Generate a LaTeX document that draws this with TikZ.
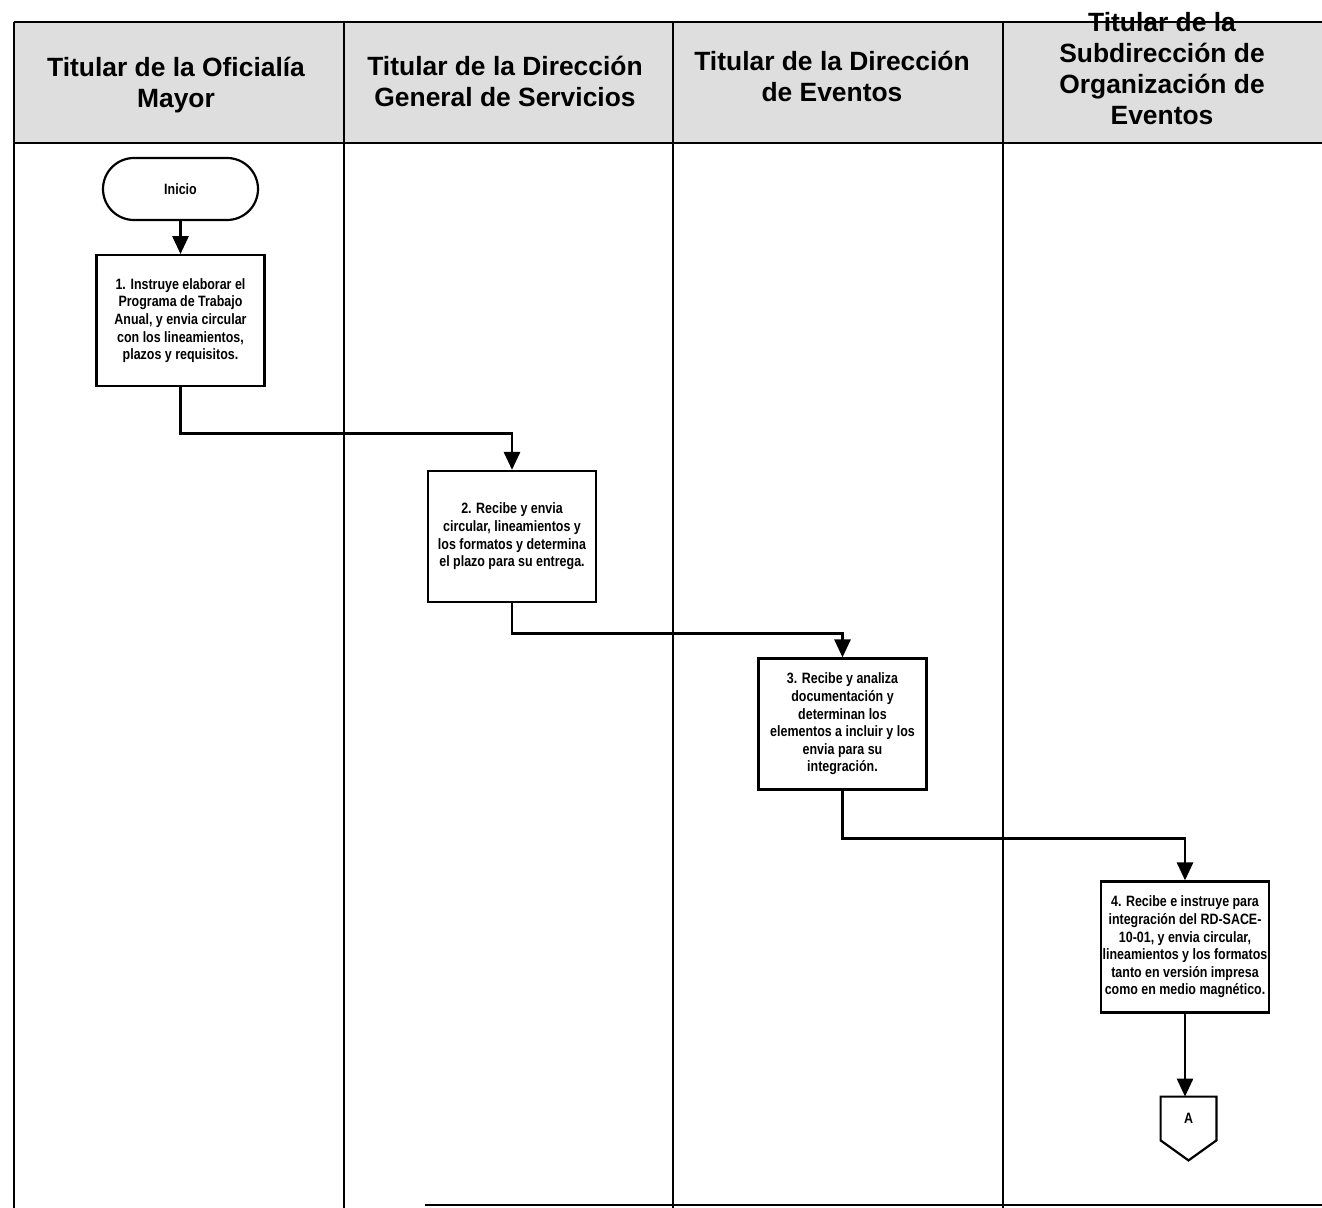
\documentclass[tikz,border=0pt]{standalone}
\usepackage{fontspec}
\setmainfont{Liberation Sans}
\newfontfamily\boxfont{Liberation Sans}[FakeStretch=0.83]
\usepackage{tikz}
\usetikzlibrary{positioning,arrows.meta}

\begin{document}
\begin{tikzpicture}[x=0.5pt, y=-0.5pt,
  hdr/.style={font=\bfseries\fontsize{13.2}{15.5}\selectfont, align=center, inner sep=0pt},
  act/.style={draw, line width=1.1pt, minimum width=84pt, minimum height=65.5pt,
              align=center, inner sep=1pt, fill=white,
              font=\boxfont\bfseries\fontsize{7.5}{8.8}\selectfont},
  term/.style={draw, line width=1.1pt, rounded corners=15.5pt, minimum width=77.5pt,
               minimum height=31pt, fill=white,
               font=\boxfont\bfseries\fontsize{7.5}{8.8}\selectfont},
  conn/.style={minimum width=27.5pt, minimum height=21.5pt, inner sep=0pt,
               font=\boxfont\bfseries\fontsize{7.5}{8.8}\selectfont},
  frame/.style={line width=1pt},
  arr/.style={-{Triangle[length=9pt,width=8pt]}, line width=1.4pt}
]
\useasboundingbox (0,0) rectangle (1322,1208);

%% Swimlane frame
\fill[black!13] (14,22) rectangle (1340,143);
\draw[frame] (14,22) -- (1340,22);
\draw[frame] (14,143) -- (1340,143);
\foreach \lx in {14,344,673,1003}
  \draw[frame] (\lx,22) -- (\lx,1208);
\draw[frame] (425,1205) -- (1340,1205);

%% Lane headers
\node[hdr] (hd1) at (176,85) {Titular de la Oficialía\\Mayor};
\node[hdr] (hd2) at (505,81) {Titular de la Dirección\\General de Servicios};
\node[hdr] (hd3) at (832,76) {Titular de la Dirección\\de Eventos};
\node[hdr] (hd4) at (1162,69) {Titular de la\\Subdirección de\\Organización de\\Eventos};

%% Activities
\node[term] (ini) at (180.5,189) {Inicio};
\node[act, below=16.5pt of ini] (nb1)
  {1. Instruye elaborar el\\Programa de Trabajo\\Anual, y envia circular\\con los lineamientos,\\plazos y requisitos.};
\node[act] (nb2) at (512,536.5)
  {2. Recibe y envia\\circular, lineamientos y\\los formatos y determina\\el plazo para su entrega.};
\node[act] (nb3) at (842.5,724)
  {3. Recibe y analiza\\documentación y\\determinan los\\elementos a incluir y los\\envia para su\\integración.};
\node[act] (nb4) at (1185,947)
  {4. Recibe e instruye para\\integración del RD-SACE-\\10-01, y envia circular,\\lineamientos y los formatos\\tanto en versión impresa\\como en medio magnético.};

%% Off-page connector
\node[conn] (conA) at (1188.5,1118.5) {A};
\draw[line width=1.1pt] (conA.north west) -- (conA.north east) -- (conA.south east)
  -- ([yshift=-10pt]conA.south) -- (conA.south west) -- cycle;

%% Flow
\draw[arr] (ini) -- (nb1);
\draw[arr] (nb1.south) -- ++(0,46) -| (nb2.north);
\draw[arr] (nb2.south) -- ++(0,30) -| (nb3.north);
\draw[arr] (nb3.south) -- ++(0,48) -| (nb4.north);
\draw[arr] (nb4.south) -- (nb4.south |- conA.north);
\end{tikzpicture}
\end{document}
